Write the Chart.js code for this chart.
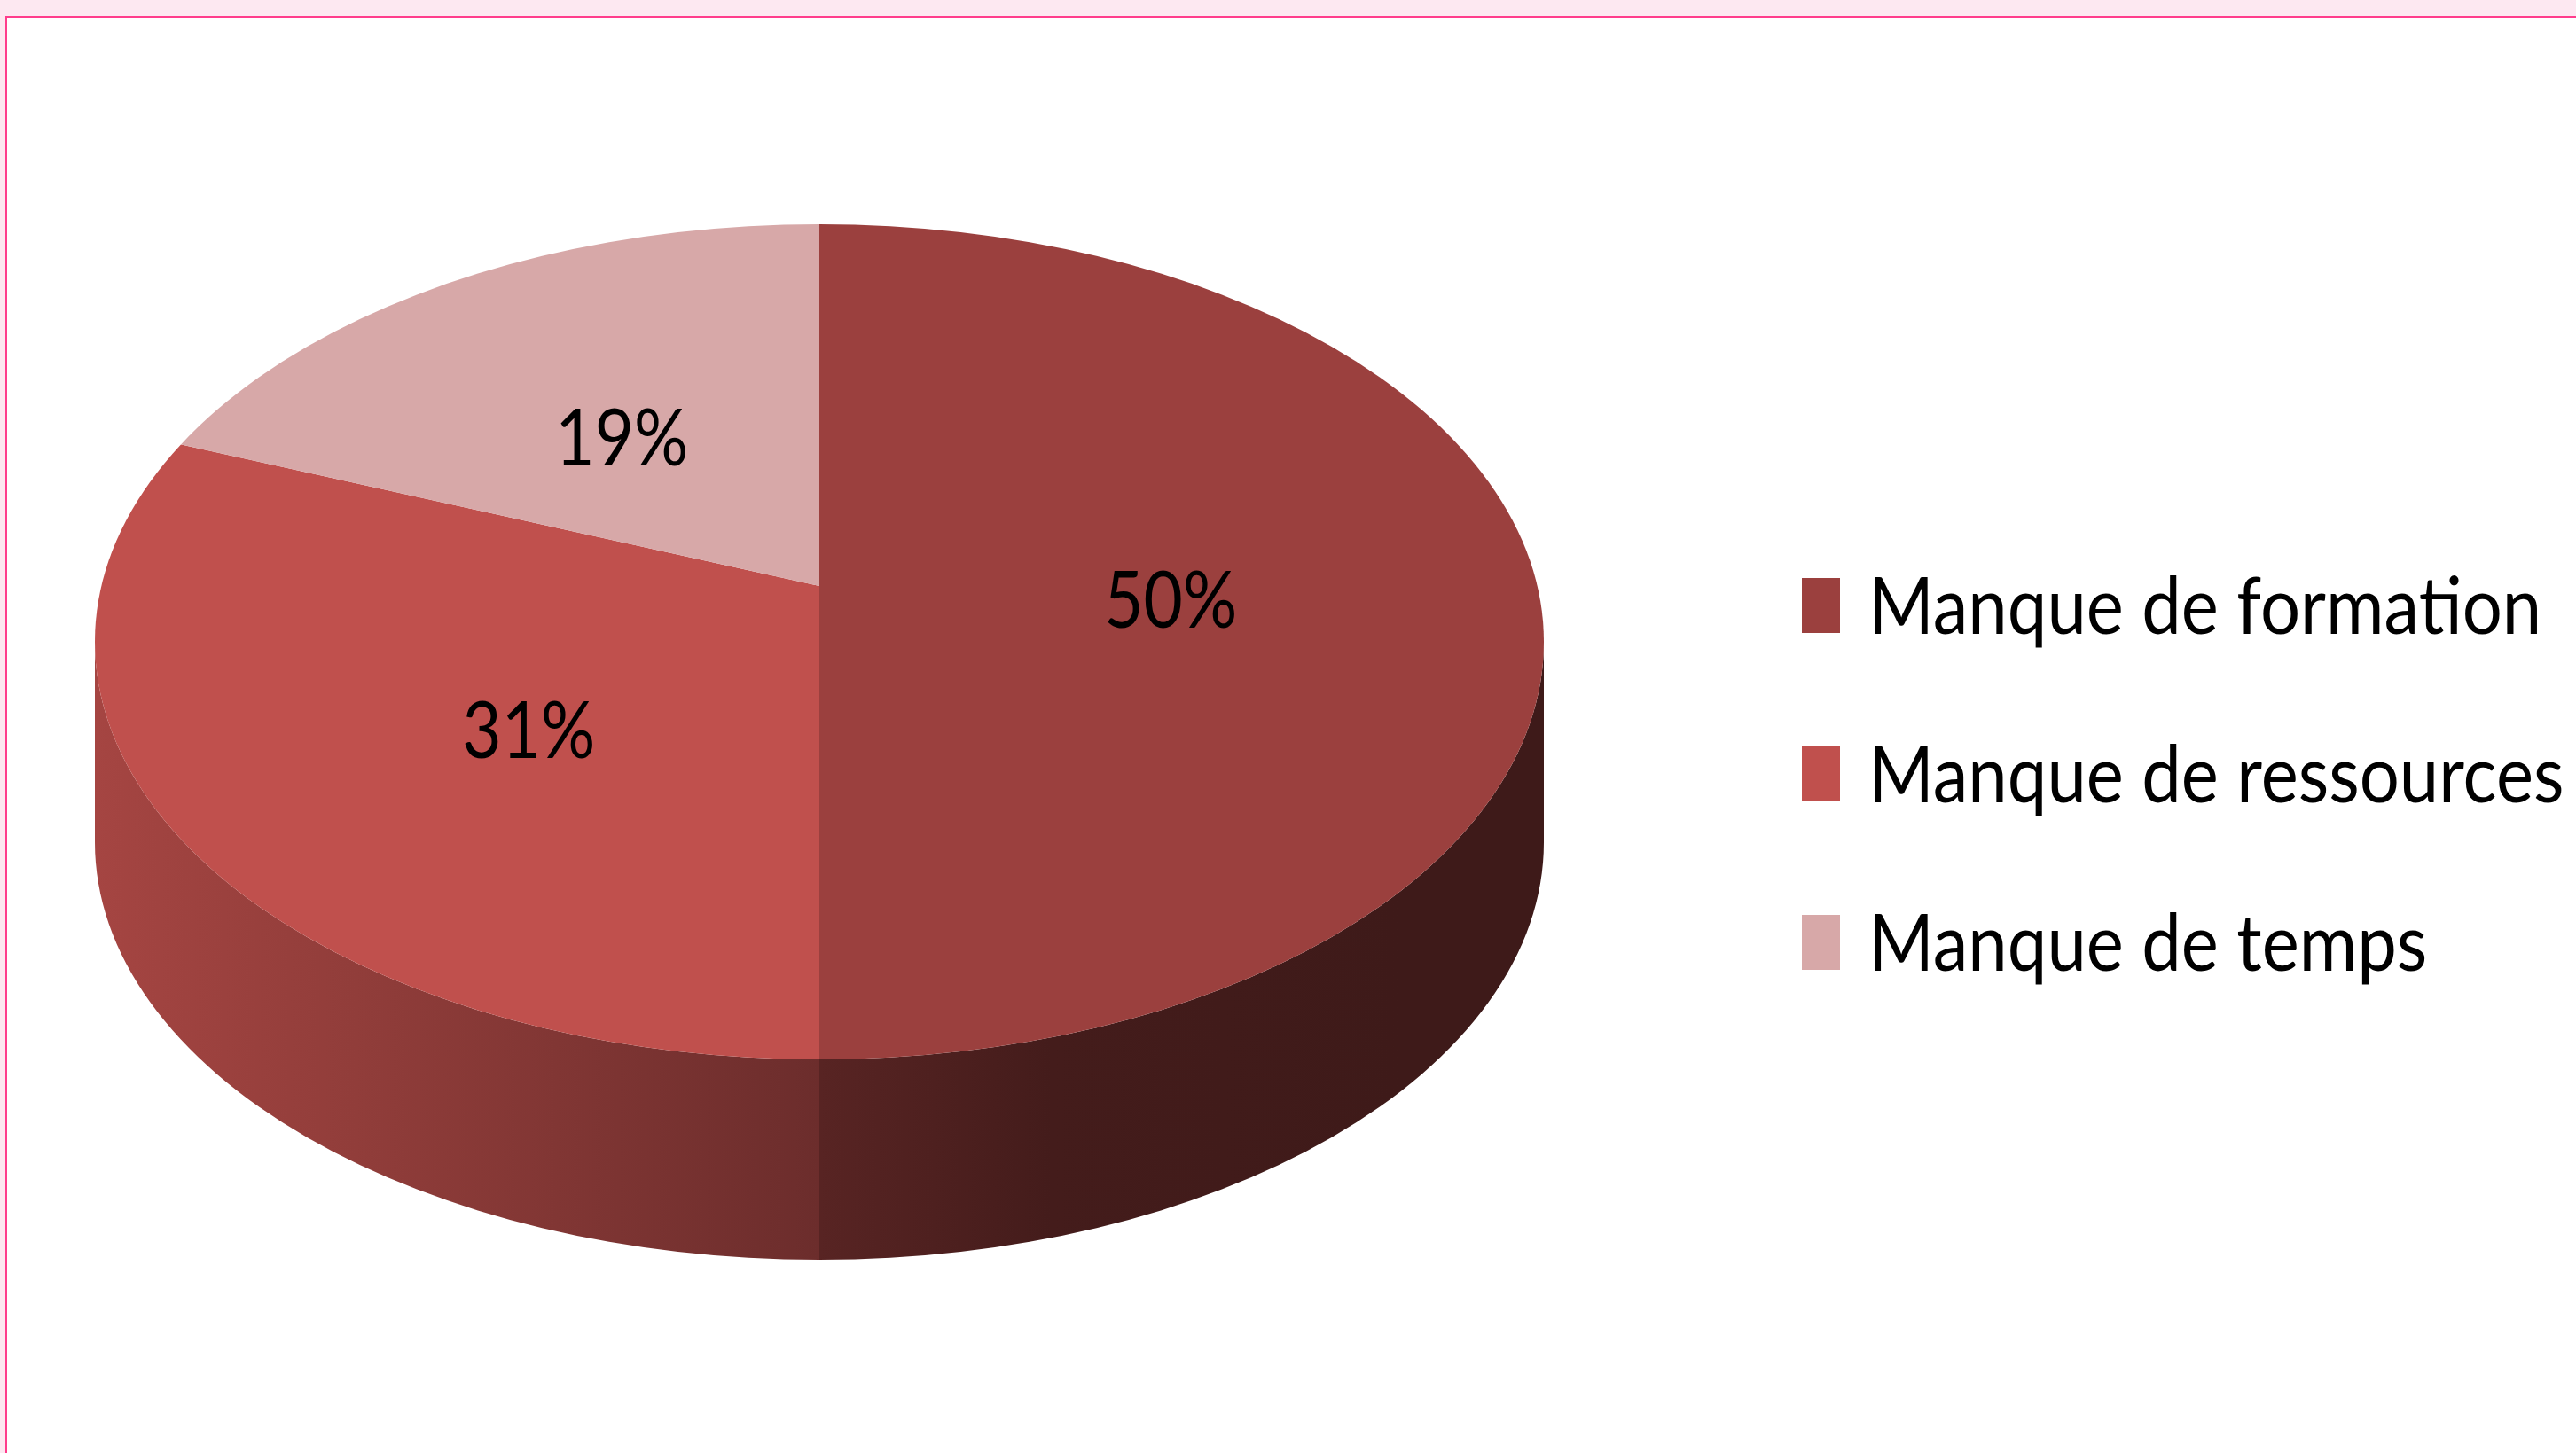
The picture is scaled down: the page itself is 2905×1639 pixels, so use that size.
<!DOCTYPE html>
<html>
<head>
<meta charset="utf-8">
<script src="https://cdn.jsdelivr.net/npm/chart.js@4/dist/chart.umd.min.js"></script>
<style>
html,body{margin:0;padding:0;background:#fff;overflow:hidden}
canvas{display:block}
</style>
</head>
<body>
<canvas id="c" width="2905" height="1639" style="width:2905px;height:1639px"></canvas>
<script>
// ---- data ----
const categories = ['Manque de formation', 'Manque de ressources', 'Manque de temps'];
const values = [50, 31, 19];
const valueLabels = ['50%', '31%', '19%'];
const sliceColors = ['#9b403e', '#c0504d', '#d7a8a8'];

// ---- style / geometry ----
const W = 2905, H = 1639;
// pie centre as seen in perspective + wedge squash factors
const GEO = { cx: 924, cy: 661, rx: 843, ryTop: 472, ryBot: 556, depth: 226 };
// outline of the top face (true ellipse)
const OUT = { cx: 924, cy: 724, rx: 817, ry: 471 };
// brightness of the side wall across the pie width (left -> right)
const SIDE_SHADE = [[0, 0.86], [0.18, 0.757], [0.5, 0.565], [0.66, 0.44], [0.9, 0.40], [1, 0.40]];
const FONT = 'Lato, "Open Sans", sans-serif';
const LABEL_FONT_PX = 90, LABEL_HSCALE = 0.85, CAP = 0.716, LABEL_FRAC = 0.47, LABEL_DROP = 15;
const LEGEND = { boxX: 2032, boxW: 43, boxH: 62, textX: 2107, firstY: 683, step: 190, fontPx: 90, hscale: 0.885 };

function shade(hex, f) {
  const n = parseInt(hex.slice(1), 16);
  const r = Math.round(((n >> 16) & 255) * f), g = Math.round(((n >> 8) & 255) * f), b = Math.round((n & 255) * f);
  return `rgb(${r},${g},${b})`;
}

function drawScaledText(ctx, text, x, y, px, hs, align, color) {
  ctx.save();
  ctx.translate(x, y);
  ctx.scale(hs, 1);
  ctx.font = `${px}px ${FONT}`;
  ctx.textAlign = align;
  ctx.textBaseline = 'alphabetic';
  ctx.fillStyle = color;
  ctx.fillText(text, 0, 0);
  ctx.restore();
}

// map a slice angle (radians, canvas convention) to the parametric angle on the outline ellipse
function angleToOutlineParam(a) {
  const dx = GEO.rx * Math.cos(a);
  const dy = (Math.sin(a) < 0 ? GEO.ryTop : GEO.ryBot) * Math.sin(a);
  const u0 = (GEO.cx - OUT.cx) / OUT.rx, v0 = (GEO.cy - OUT.cy) / OUT.ry;
  const du = dx / OUT.rx, dv = dy / OUT.ry;
  const A = du * du + dv * dv, B = 2 * (u0 * du + v0 * dv), C = u0 * u0 + v0 * v0 - 1;
  const t = (-B + Math.sqrt(B * B - 4 * A * C)) / (2 * A);
  let th = Math.atan2(v0 + dv * t, u0 + du * t);
  th += 2 * Math.PI * Math.round((a - th) / (2 * Math.PI));
  return th;
}

const pie3d = {
  id: 'pie3d',
  beforeDraw(chart) {
    const ctx = chart.ctx;
    ctx.save();
    ctx.fillStyle = '#ffffff'; ctx.fillRect(0, 0, W, H);
    ctx.fillStyle = '#fde8f1'; ctx.fillRect(0, 0, W, 18); ctx.fillRect(0, 0, 6, H);
    ctx.fillStyle = '#ff3d8c'; ctx.fillRect(6, 18, W - 6, 2); ctx.fillRect(6, 18, 2, H - 18);
    ctx.restore();
  },
  beforeDatasetsDraw(chart) {
    const ctx = chart.ctx;
    const arcs = chart.getDatasetMeta(0).data;
    if (!arcs.length) return false;
    const R = arcs[0].outerRadius, ox = arcs[0].x, oy = arcs[0].y;
    const { cx, cy, rx, ryTop, ryBot, depth } = GEO;

    // side walls (visible front half of the outline)
    arcs.forEach((arc, i) => {
      const t1s = angleToOutlineParam(arc.startAngle);
      let t2s = angleToOutlineParam(arc.endAngle);
      while (t2s < t1s) t2s += 2 * Math.PI;
      for (const k of [-2 * Math.PI, 0, 2 * Math.PI]) {
        const a1 = Math.max(t1s, k), a2 = Math.min(t2s, k + Math.PI);
        if (a2 <= a1) continue;
        ctx.save();
        ctx.beginPath();
        ctx.ellipse(OUT.cx, OUT.cy, OUT.rx, OUT.ry, 0, a1, a2, false);
        ctx.ellipse(OUT.cx, OUT.cy + depth, OUT.rx, OUT.ry, 0, a2, a1, true);
        ctx.closePath();
        const g = ctx.createLinearGradient(OUT.cx - OUT.rx, 0, OUT.cx + OUT.rx, 0);
        SIDE_SHADE.forEach(([p, f]) => g.addColorStop(p, shade(sliceColors[i], f)));
        ctx.fillStyle = g;
        ctx.fill();
        ctx.restore();
      }
    });

    // top face: wedges squashed differently above / below the centre, clipped to the outline
    [[0, cy, ryTop], [cy, H, ryBot]].forEach(([y0, y1, ry]) => {
      ctx.save();
      ctx.beginPath();
      ctx.ellipse(OUT.cx, OUT.cy, OUT.rx, OUT.ry, 0, 0, 2 * Math.PI);
      ctx.clip();
      ctx.beginPath(); ctx.rect(0, y0, W, y1 - y0); ctx.clip();
      ctx.translate(cx, cy);
      ctx.scale(rx / R, ry / R);
      ctx.translate(-ox, -oy);
      arcs.forEach(a => a.draw(ctx));
      ctx.restore();
    });
    return false;
  },
  afterDraw(chart) {
    const ctx = chart.ctx;
    const arcs = chart.getDatasetMeta(0).data;
    if (!arcs.length) return;
    const { cx, cy, rx, ryTop, ryBot } = GEO;
    const capH = LABEL_FONT_PX * CAP;
    arcs.forEach((arc, i) => {
      const mid = (arc.startAngle + arc.endAngle) / 2;
      const s = Math.sin(mid);
      const sx = cx + Math.cos(mid) * rx * LABEL_FRAC;
      const sy = cy + s * (s < 0 ? ryTop : ryBot) * LABEL_FRAC + LABEL_DROP;
      drawScaledText(ctx, valueLabels[i], sx, sy + capH / 2, LABEL_FONT_PX, LABEL_HSCALE, 'center', '#000000');
    });
    // legend
    const lcap = LEGEND.fontPx * CAP;
    categories.forEach((name, i) => {
      const yc = LEGEND.firstY + i * LEGEND.step;
      ctx.fillStyle = sliceColors[i];
      ctx.fillRect(LEGEND.boxX, yc - LEGEND.boxH / 2, LEGEND.boxW, LEGEND.boxH);
      drawScaledText(ctx, name, LEGEND.textX, yc + lcap / 2, LEGEND.fontPx, LEGEND.hscale, 'left', '#000000');
    });
  }
};

new Chart(document.getElementById('c'), {
  type: 'pie',
  data: {
    labels: categories,
    datasets: [{ data: values, backgroundColor: sliceColors, borderWidth: 0 }]
  },
  options: {
    responsive: false,
    devicePixelRatio: 1,
    animation: false,
    layout: { padding: { left: 107, right: 1164, top: 0, bottom: 0 } },
    plugins: { legend: { display: false }, tooltip: { enabled: false } }
  },
  plugins: [pie3d]
});
</script>
</body>
</html>
